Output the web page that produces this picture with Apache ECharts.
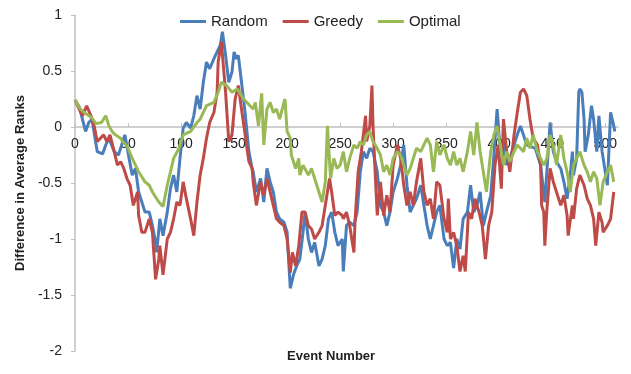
<!DOCTYPE html>
<html>
<head>
<meta charset="utf-8">
<script src="https://cdn.jsdelivr.net/npm/echarts@6/dist/echarts.min.js"></script>
<style>
html,body{margin:0;padding:0;background:#fff;}
#chart{width:631px;height:374px;}
</style>
</head>
<body>
<div id="chart"></div>
<script>
const seriesNames = ["Random", "Greedy", "Optimal"];

// Random (blue)
const randomEvents = [0,4,7,10,13,16,21,26,29,32,37,41,44,47,51,54,57,60,63,66,70,73,76,77,80,83,87,90,93,96,99,102,105,109,112,115,118,121,124,127,131,134,137,139,142,145,148,150,152,154,157,160,164,167,168,171,175,178,181,184,187,190,193,197,200,201,203,206,209,212,215,217,220,223,226,230,233,236,239,242,245,248,252,253,256,259,263,266,269,272,275,278,281,285,288,291,294,297,300,304,307,310,313,316,319,322,326,329,332,335,338,341,344,348,351,354,357,360,363,366,370,373,376,379,382,385,388,392,395,398,401,404,407,410,414,417,420,426,434,439,443,448,451,454,458,461,464,467,469,470,473,475,476,478,480,481,484,487,489,492,494,497,500,502,505,508,509];
const randomVals = [0.24,0.18,0.07,-0.04,0.04,0.07,-0.22,-0.24,-0.16,-0.10,-0.22,-0.25,-0.16,-0.07,-0.28,-0.43,-0.37,-0.58,-0.67,-0.76,-0.76,-0.88,-1.03,-1.12,-0.82,-0.97,-0.76,-0.55,-0.43,-0.58,-0.28,-0.01,0.04,-0.01,0.10,0.28,0.16,0.40,0.58,0.52,0.61,0.67,0.73,0.85,0.64,0.40,0.49,0.67,0.61,0.64,0.40,0.16,-0.22,-0.37,-0.40,-0.58,-0.46,-0.67,-0.37,-0.49,-0.58,-0.76,-0.82,-0.85,-0.94,-1.12,-1.44,-1.32,-1.24,-1.18,-0.94,-0.76,-1.00,-1.12,-1.03,-1.24,-1.18,-1.06,-0.82,-0.76,-0.94,-1.06,-1.00,-1.29,-0.88,-0.85,-0.88,-0.76,-0.40,-0.22,-0.28,-0.19,-0.22,-0.40,-0.70,-0.76,-0.88,-0.76,-0.58,-0.46,-0.34,-0.16,-0.52,-0.76,-0.70,-0.64,-0.52,-0.70,-0.88,-1.00,-0.88,-0.76,-0.70,-1.00,-1.06,-1.03,-1.26,-1.00,-1.09,-0.82,-0.76,-0.52,-0.76,-0.70,-0.58,-0.88,-0.76,-0.61,-0.25,0.16,-0.22,-0.16,-0.34,-0.28,-0.16,-0.07,0.01,-0.16,-0.19,-0.34,-0.67,0.04,-0.22,-0.31,-0.37,-0.49,-0.64,-0.43,-0.22,-0.43,-0.28,0.31,0.34,0.31,0.07,-0.22,-0.07,0.19,0.07,-0.22,0.10,-0.22,-0.40,-0.52,0.13,0.01,-0.04];

// Greedy (red)
const greedyEvents = [0,4,7,11,15,18,21,24,27,30,33,37,40,43,46,49,52,55,59,60,63,66,70,73,76,79,80,83,87,90,93,96,99,102,105,109,112,115,118,121,124,127,131,134,135,138,142,145,148,151,154,157,160,164,167,168,171,175,178,181,184,187,190,193,197,200,203,205,208,211,214,217,220,223,226,230,233,236,240,242,245,248,252,253,256,259,263,264,267,270,274,275,278,280,281,283,285,288,291,294,297,300,304,307,310,313,316,319,322,326,329,332,335,338,341,344,348,351,352,354,357,360,363,366,368,371,374,377,381,384,387,390,393,396,399,402,404,407,410,414,417,420,423,426,429,432,436,439,440,442,443,445,448,451,454,458,461,464,465,469,470,473,476,480,483,486,489,491,494,497,498,502,505,508];
const greedyVals = [0.24,0.16,0.10,0.19,0.10,0.01,-0.13,-0.10,-0.07,-0.13,-0.07,-0.22,-0.34,-0.31,-0.37,-0.46,-0.52,-0.70,-0.58,-0.79,-0.94,-0.94,-0.82,-0.94,-1.36,-1.18,-1.06,-1.32,-1.00,-0.94,-0.82,-0.67,-0.70,-0.49,-0.64,-0.82,-0.97,-0.67,-0.43,-0.28,-0.10,0.04,0.13,0.31,0.58,0.76,0.31,-0.13,-0.07,0.25,0.37,0.16,-0.04,-0.31,-0.37,-0.49,-0.70,-0.49,-0.61,-0.46,-0.58,-0.70,-0.82,-0.85,-0.88,-1.00,-1.30,-1.12,-1.24,-1.06,-0.76,-0.76,-0.88,-0.91,-1.00,-0.94,-0.88,-0.70,-0.46,-0.58,-0.79,-0.76,-0.79,-0.82,-0.76,-0.88,-1.12,-0.85,-0.40,-0.22,0.10,-0.13,0.01,0.37,0.01,-0.40,-0.79,-0.49,-0.79,-0.61,-0.76,-0.34,-0.16,-0.28,-0.52,-0.70,-0.58,-0.70,-0.49,-0.28,-0.58,-0.70,-0.64,-0.82,-0.49,-0.52,-0.82,-0.94,-0.64,-1.00,-0.94,-1.06,-1.29,-1.15,-1.29,-0.76,-0.82,-0.64,-0.76,-0.88,-1.18,-0.88,-0.76,-0.34,-0.16,-0.55,0.07,-0.22,-0.40,-0.07,0.13,0.31,0.34,0.28,0.07,-0.10,-0.16,-0.34,-0.70,-0.76,-1.06,-0.73,-0.37,-0.49,-0.58,-0.70,-0.61,-0.79,-0.97,-0.70,-0.82,-0.55,-0.43,-0.52,-0.64,-0.70,-0.82,-1.06,-0.76,-0.85,-0.94,-0.88,-0.82,-0.58];

// Optimal (green)
const optimalEvents = [0,5,10,15,20,25,29,32,35,38,43,45,48,50,54,60,66,70,73,79,83,87,90,93,98,102,109,115,118,121,124,131,135,138,143,148,153,159,165,168,170,173,176,178,181,184,187,190,193,197,198,200,203,204,208,211,212,215,220,223,226,230,233,236,238,241,244,247,250,253,256,259,263,266,269,272,275,278,281,285,288,291,294,297,300,304,307,310,313,316,319,322,326,329,332,335,338,341,344,348,351,354,357,360,363,366,370,373,376,379,382,385,388,392,395,398,401,404,407,410,414,417,420,423,426,429,432,436,439,442,445,448,451,454,458,461,464,467,470,473,476,480,483,486,489,492,495,498,502,505,508];
const optimalVals = [0.24,0.16,0.12,0.09,0.03,0.04,0.10,0.01,-0.04,-0.07,-0.10,-0.13,-0.16,-0.19,-0.28,-0.40,-0.49,-0.52,-0.58,-0.67,-0.71,-0.52,-0.40,-0.28,-0.19,-0.07,-0.04,0.04,0.07,0.13,0.19,0.22,0.31,0.40,0.37,0.31,0.34,0.25,0.19,0.16,0.22,0.01,0.30,-0.16,0.16,0.22,0.13,0.16,0.07,0.22,0.25,-0.04,-0.10,-0.25,-0.37,-0.28,-0.43,-0.34,-0.43,-0.37,-0.46,-0.58,-0.67,-0.49,0.01,-0.46,-0.28,-0.37,-0.34,-0.22,-0.40,-0.28,-0.16,-0.19,-0.13,-0.16,-0.07,-0.04,-0.13,-0.19,-0.25,-0.40,-0.34,-0.43,-0.28,-0.22,-0.25,-0.34,-0.43,-0.37,-0.28,-0.19,-0.22,-0.16,-0.10,-0.16,-0.40,-0.13,-0.25,-0.16,-0.28,-0.34,-0.22,-0.34,-0.28,-0.40,-0.22,-0.04,-0.25,0.04,-0.22,-0.40,-0.58,-0.22,-0.07,0.01,-0.16,-0.34,-0.22,-0.31,-0.22,-0.16,-0.19,-0.22,-0.10,-0.19,-0.07,-0.22,-0.28,-0.34,-0.28,-0.07,-0.16,-0.34,-0.07,-0.28,-0.40,-0.58,-0.34,-0.28,-0.22,-0.34,-0.40,-0.49,-0.40,-0.46,-0.70,-0.49,-0.40,-0.34,-0.49];

const colors = ["#4a7ebb", "#be4b48", "#98b954"];
const eventsList = [randomEvents, greedyEvents, optimalEvents];
const valuesList = [randomVals, greedyVals, optimalVals];

const font = "'Liberation Sans', Arial, sans-serif";

const chart = echarts.init(document.getElementById('chart'), null, {renderer: 'canvas'});
chart.setOption({
  animation: false,
  backgroundColor: '#ffffff',
  textStyle: {fontFamily: font},
  grid: {left: 75, right: 13, top: 15, bottom: 23, containLabel: false},
  legend: {
    top: 9,
    left: 175,
    itemWidth: 26,
    itemHeight: 3,
    itemGap: 15,
    icon: 'rect',
    textStyle: {fontSize: 15, color: '#222', fontFamily: font},
    data: seriesNames
  },
  xAxis: {
    type: 'value',
    position: 'bottom',
    offset: -224,
    min: 0,
    max: 512,
    interval: 50,
    axisLine: {onZero: false, lineStyle: {color: '#c0c0c0', width: 1.5}},
    axisTick: {show: true, inside: true, length: 4, lineStyle: {color: '#c0c0c0'}},
    axisLabel: {fontSize: 14, color: '#222', margin: 10, showMaxLabel: false, fontFamily: font},
    splitLine: {show: false}
  },
  yAxis: {
    type: 'value',
    min: -2,
    max: 1,
    interval: 0.5,
    name: 'Difference in Average Ranks',
    nameLocation: 'middle',
    nameGap: 41,
    nameTextStyle: {fontSize: 13, fontWeight: 'bold', color: '#222', fontFamily: font},
    axisLine: {show: true, onZero: false, lineStyle: {color: '#c0c0c0', width: 1.5}},
    axisTick: {show: true, length: 4, lineStyle: {color: '#c0c0c0'}},
    axisLabel: {fontSize: 14, color: '#222', margin: 13, fontFamily: font},
    splitLine: {show: false}
  },
  graphic: [{
    type: 'text',
    left: 287,
    top: 350,
    style: {text: 'Event Number', font: 'bold 13px ' + font, fill: '#222'}
  }],
  series: seriesNames.map((n, i) => ({
    name: n,
    type: 'line',
    showSymbol: false,
    symbol: 'none',
    color: colors[i],
    lineStyle: {width: 3, color: colors[i]},
    data: eventsList[i].map((e, k) => [e, valuesList[i][k]])
  }))
});
</script>
</body>
</html>
